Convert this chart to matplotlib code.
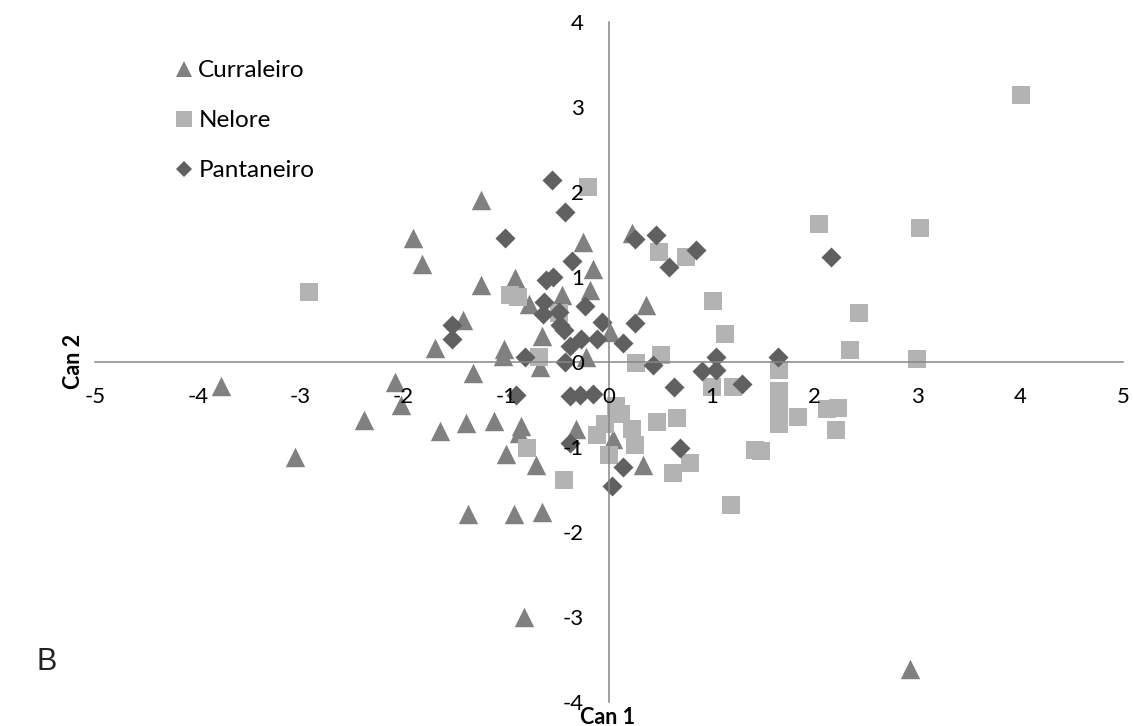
import matplotlib
matplotlib.use("Agg")
import matplotlib.pyplot as plt
from matplotlib.lines import Line2D

plt.rcParams['font.family'] = ['Lato', 'DejaVu Sans']

# Curraleiro (triangles)
cur_x = [-3.77, -3.05, -2.38, -2.08, -2.02, -1.91, -1.82, -1.69, -1.64, -1.42,
         -1.39, -1.37, -1.32, -1.25, -1.25, -1.12, -1.02, -1.03, -1.00, -0.91,
         -0.92, -0.86, -0.88, -0.83, -0.78, -0.71, -0.67, -0.65, -0.65, -0.46,
         -0.32, -0.25, -0.22, -0.16, -0.18, 0.01, 0.04, 0.22, 0.33, 0.36, 2.93]
cur_y = [-0.28, -1.12, -0.69, -0.24, -0.51, 1.46, 1.15, 0.16, -0.81, 0.49,
         -0.72, -1.79, -0.13, 0.90, 1.90, -0.70, 0.15, 0.07, -1.08, 0.98,
         -1.79, -0.76, -0.84, -3.00, 0.68, -1.22, -0.06, 0.30, -1.77, 0.79,
         -0.79, 1.41, 0.05, 1.09, 0.84, 0.35, -0.91, 1.51, -1.22, 0.67, -3.61]

# Nelore (squares)
nel_x = [-2.92, -0.96, -0.89, -0.49, -0.68, -0.20, 0.49, 0.75, 1.01, 1.13,
         0.26, 0.51, 2.04, 3.03, 4.01, 2.43, 2.34, 3.00, 1.65, 1.65,
         1.65, 1.65, 1.84, 2.23, 2.12, 2.21, 1.42, 1.48, 1.00, 1.21,
         0.47, 0.66, 0.79, 0.62, 1.19, 0.07, 0.12, -0.04, -0.12, 0.22,
         0.25, 0.00, -0.44, -0.80]
nel_y = [0.82, 0.78, 0.76, 0.57, 0.06, 2.06, 1.29, 1.23, 0.72, 0.33,
         -0.01, 0.08, 1.62, 1.57, 3.14, 0.57, 0.14, 0.03, -0.10, -0.34,
         -0.53, -0.73, -0.65, -0.55, -0.56, -0.80, -1.04, -1.05, -0.30, -0.30,
         -0.71, -0.66, -1.19, -1.31, -1.69, -0.52, -0.62, -0.73, -0.86, -0.79,
         -0.98, -1.10, -1.39, -1.02]

# Pantaneiro (diamonds)
pan_x = [-0.55, -0.43, -1.01, -0.36, -0.61, -0.54, -0.63, -0.64, -0.49, -0.23,
         -0.48, -0.44, -1.53, -1.53, -0.07, -0.38, -0.27, -0.12, -0.82, -0.43,
         0.14, 0.25, 0.25, 0.46, 0.85, 0.58, 2.16, 0.43, 1.04, 1.64,
         0.90, 1.04, 1.29, 0.63, 0.69, 0.14, 0.03, -0.90, -0.38, -0.28,
         -0.16, -0.38]
pan_y = [2.14, 1.76, 1.46, 1.19, 0.96, 1.00, 0.70, 0.56, 0.59, 0.66,
         0.43, 0.37, 0.43, 0.27, 0.47, 0.19, 0.27, 0.27, 0.05, 0.00,
         0.22, 0.45, 1.44, 1.49, 1.31, 1.12, 1.23, -0.04, 0.06, 0.06,
         -0.11, -0.10, -0.26, -0.30, -1.02, -1.24, -1.46, -0.39, -0.40, -0.39,
         -0.38, -0.96]

series_names = ['Curraleiro', 'Nelore', 'Pantaneiro']
x_ticks = [-5, -4, -3, -2, -1, 0, 1, 2, 3, 4, 5]
y_ticks = [-4, -3, -2, -1, 0, 1, 2, 3, 4]

c_tri, c_sq, c_dia = '#808080', '#b3b3b3', '#606060'
axis_col = '#868686'

fig = plt.figure(figsize=(11.33, 7.26), dpi=100)
ax = fig.add_axes([95/1133, 1 - 701.7/726, (1123-95)/1133, (701.7-21.7)/726])

ax.scatter(cur_x, cur_y, marker='^', s=14**2, color=c_tri, linewidths=0, zorder=1)
ax.scatter(nel_x, nel_y, marker='s', s=13.5**2, color=c_sq, linewidths=0, zorder=1)
ax.scatter(pan_x, pan_y, marker='D', s=10.2**2, color=c_dia, linewidths=0, zorder=1)

ax.set_xlim(-5, 5)
ax.set_ylim(-4, 4)
ax.set_xticks(x_ticks)
ax.set_yticks(y_ticks)
ax.set_xticklabels([str(v) for v in x_ticks])
ax.set_yticklabels([str(v) for v in y_ticks])

for s in ['top', 'right']:
    ax.spines[s].set_visible(False)
ax.spines['left'].set_position(('data', 0))
ax.spines['bottom'].set_position(('data', 0))
for s in ['left', 'bottom']:
    ax.spines[s].set_color(axis_col)
    ax.spines[s].set_linewidth(1.1)
ax.set_axisbelow(False)
ax.tick_params(axis='x', length=0, pad=18.5, labelsize=16, labelcolor='black')
ax.tick_params(axis='y', length=0, pad=18, labelsize=16, labelcolor='black')
ax.patch.set_visible(False)

fig.text(74/1133, 1 - 361/726, 'Can 2', rotation=90, ha='center', va='center',
         fontsize=15.5, fontweight='bold')
fig.text(608/1133, 1 - 717/726, 'Can 1', ha='center', va='center',
         fontsize=15.5, fontweight='bold')
fig.text(47/1133, 1 - 662/726, 'B', ha='center', va='center',
         fontsize=22, family=['Liberation Sans', 'DejaVu Sans'], color='#222222')

handles = [
    Line2D([], [], marker='^', linestyle='none', markersize=12, color=c_tri, markeredgewidth=0),
    Line2D([], [], marker='s', linestyle='none', markersize=12, color=c_sq, markeredgewidth=0),
    Line2D([], [], marker='D', linestyle='none', markersize=8.5, color=c_dia, markeredgewidth=0),
]
fig.legend(handles, series_names, loc='upper left',
           bbox_to_anchor=(174/1133, 1 - 60/726), frameon=False,
           fontsize=17.5, handlelength=0.8, handletextpad=0.2,
           labelspacing=1.2, borderpad=0, borderaxespad=0)

fig.savefig('out.png', dpi=100)
